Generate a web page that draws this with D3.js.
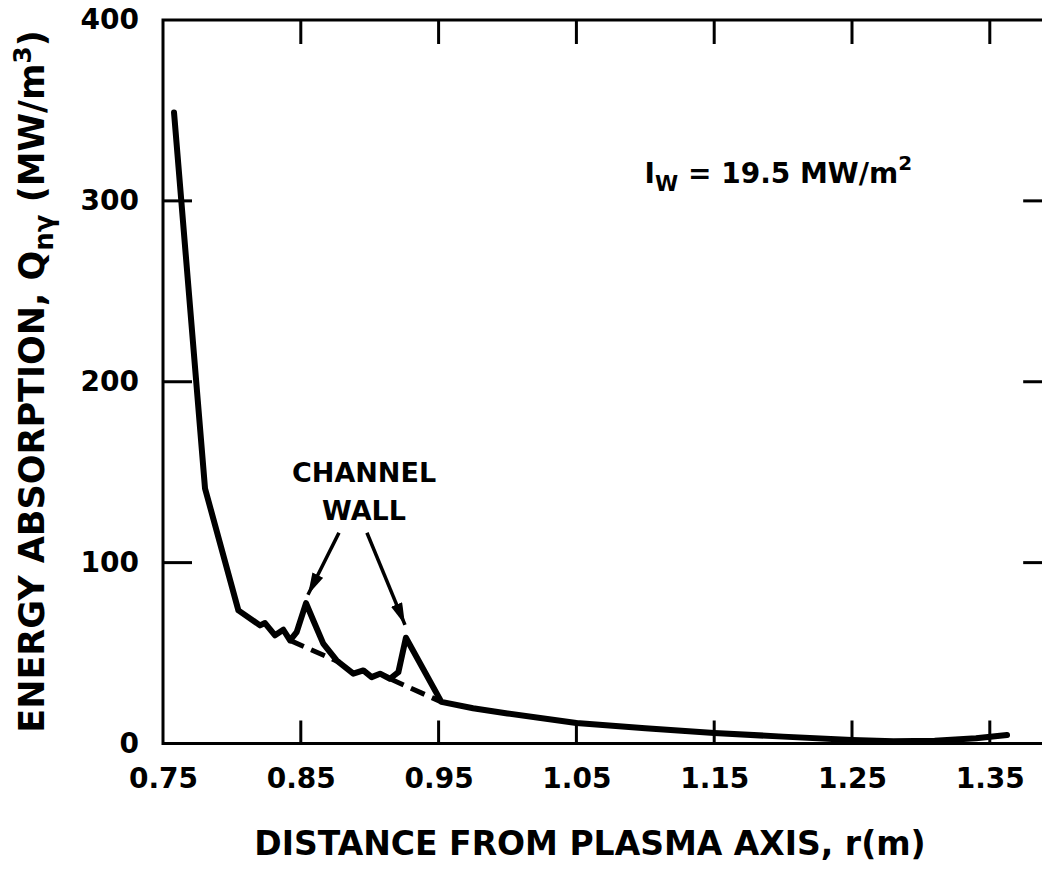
<!DOCTYPE html>
<html>
<head>
<meta charset="utf-8">
<script src="https://cdn.jsdelivr.net/npm/d3@7"></script>
<style>
  html, body { margin: 0; padding: 0; background: #fff; }
  svg { display: block; }
  text { font-family: "DejaVu Sans", "Liberation Sans", sans-serif; font-weight: bold; fill: #000; }
</style>
</head>
<body>
<svg id="chart" width="1042" height="869"></svg>
<script>
// ---------- data ----------
const rTickLabels = [0.75, 0.85, 0.95, 1.05, 1.15, 1.25, 1.35];
const rTickMarks  = [0.85, 0.95, 1.05, 1.15, 1.25, 1.35];
const qTickLabels = [0, 100, 200, 300, 400];
const qTickMarks  = [100, 200, 300];

// main curve: distance r (m) and energy absorption Q (MW/m^3)
const curveR = [0.758, 0.7805, 0.8047, 0.8204, 0.8240, 0.8313, 0.8373, 0.8422, 0.8470, 0.8538,
                0.8591, 0.8663, 0.8760, 0.8881, 0.8954, 0.9014, 0.9075, 0.9147, 0.9208, 0.9263,
                0.952, 0.975, 1.00, 1.05, 1.10, 1.15, 1.20, 1.25, 1.28, 1.31, 1.34, 1.3625];
const curveQ = [348.8, 141, 73.6, 65.3, 66.6, 59.8, 62.9, 57.0, 61.6, 77.6,
                68, 55.2, 45.9, 38.6, 40.4, 36.7, 38.6, 35.8, 39.4, 58.5,
                23, 19.5, 16.6, 11.3, 8.4, 5.8, 3.8, 2.0, 1.2, 1.5, 2.9, 4.7];

// dashed baseline (without channel walls), two visible segments
const dashR1 = [0.8422, 0.878];
const dashQ1 = [57.0, 45.0];
const dashR2 = [0.9147, 0.952];
const dashQ2 = [35.8, 23.0];

// annotation texts
const xTitle = "DISTANCE FROM PLASMA AXIS, r(m)";
const annotLines = ["CHANNEL", "WALL"];

// ---------- layout ----------
const svg = d3.select("#chart");
const x = d3.scaleLinear().domain([0.75, 1.40]).range([163, 163 + 6.5 * 137.8]);
const y = d3.scaleLinear().domain([0, 400]).range([743.5, 20]);

const x0 = x(0.75), x1 = x(1.396), yb = y(0), yt = y(400);

// frame
const frame = svg.append("g").attr("stroke", "#000").attr("stroke-width", 3).attr("fill", "none");
frame.append("path").attr("d", `M${x1},${yt}H${x0}V${yb}H${x1}`).attr("stroke-linejoin", "miter");

// ticks (inward)
const ticks = svg.append("g").attr("stroke", "#000").attr("stroke-width", 3);
rTickMarks.forEach(v => {
  ticks.append("line").attr("x1", x(v)).attr("x2", x(v)).attr("y1", yb).attr("y2", yb - 23);
  ticks.append("line").attr("x1", x(v)).attr("x2", x(v)).attr("y1", yt).attr("y2", yt + 24);
});
qTickMarks.forEach(v => {
  ticks.append("line").attr("x1", x0).attr("x2", x0 + 29).attr("y1", y(v)).attr("y2", y(v));
  ticks.append("line").attr("x1", x1).attr("x2", x1 - 30).attr("y1", y(v)).attr("y2", y(v));
});

// tick labels via axes
const xAxis = d3.axisBottom(x).tickValues(rTickLabels).tickFormat(d3.format(".2f")).tickSize(0).tickPadding(25);
const gx = svg.append("g").attr("transform", `translate(0,${yb})`).call(xAxis);
gx.select(".domain").remove();
gx.selectAll("text").attr("font-size", 28).attr("font-family", null).style("font-family", "DejaVu Sans").style("font-weight", "bold").attr("fill", "#000");

const yAxis = d3.axisLeft(y).tickValues(qTickLabels).tickFormat(d3.format("d")).tickSize(0).tickPadding(24);
const gy = svg.append("g").attr("transform", `translate(${x0},0)`).call(yAxis);
gy.select(".domain").remove();
gy.selectAll("text").attr("font-size", 28).attr("font-family", null).style("font-family", "DejaVu Sans").style("font-weight", "bold").attr("fill", "#000");

// main curve
const pts = curveR.map((r, i) => [r, curveQ[i]]);
const line = d3.line().x(d => x(d[0])).y(d => y(d[1]));
svg.append("path").attr("d", line(pts)).attr("fill", "none").attr("stroke", "#000")
  .attr("stroke-width", 6).attr("stroke-linejoin", "round").attr("stroke-linecap", "round");

// dashed baseline
[[dashR1, dashQ1], [dashR2, dashQ2]].forEach(([rs, qs]) => {
  const p = rs.map((r, i) => [r, qs[i]]);
  svg.append("path").attr("d", line(p)).attr("fill", "none").attr("stroke", "#000")
    .attr("stroke-width", 5).attr("stroke-dasharray", "15,8");
});

// arrows
const defs = svg.append("defs");
defs.append("marker").attr("id", "arr").attr("viewBox", "0 0 22 12").attr("refX", 22).attr("refY", 6)
  .attr("markerWidth", 22).attr("markerHeight", 12).attr("markerUnits", "userSpaceOnUse").attr("orient", "auto")
  .append("path").attr("d", "M0,0L22,6L0,12Z").attr("fill", "#000");

const arrows = [
  {from: [0.8777, 116.5], to: [0.8552, 82.2]},
  {from: [0.8980, 116.5], to: [0.9256, 65.6]}
];
arrows.forEach(a => {
  svg.append("line").attr("x1", x(a.from[0])).attr("y1", y(a.from[1]))
    .attr("x2", x(a.to[0])).attr("y2", y(a.to[1]))
    .attr("stroke", "#000").attr("stroke-width", 3.5).attr("marker-end", "url(#arr)");
});

// "CHANNEL WALL"
svg.append("text").attr("x", x(0.8959)).attr("y", y(144.7)).attr("text-anchor", "middle")
  .attr("font-size", 27).text(annotLines[0]);
svg.append("text").attr("x", x(0.8959)).attr("y", y(123.7)).attr("text-anchor", "middle")
  .attr("font-size", 27).text(annotLines[1]);

// I_W label
const iw = svg.append("text").attr("x", x(1.0995)).attr("y", y(310)).attr("font-size", 28);
iw.append("tspan").text("I");
iw.append("tspan").attr("dy", 8).attr("font-size", 21).text("W");
iw.append("tspan").attr("dy", -8).text(" = 19.5 MW/m");
iw.append("tspan").attr("dy", -13).attr("font-size", 20).text("2");

// x title
svg.append("text").attr("x", 590).attr("y", 855).attr("text-anchor", "middle")
  .attr("font-size", 33).text(xTitle);

// y title
const yt2 = svg.append("text").attr("transform", `translate(44,${(28 + 735) / 2}) rotate(-90)`)
  .attr("text-anchor", "middle").attr("font-size", 35);
yt2.append("tspan").text("ENERGY ABSORPTION, Q");
yt2.append("tspan").attr("dy", 9).attr("font-size", 26).text("nγ");
yt2.append("tspan").attr("dy", -9).text(" (MW/m");
yt2.append("tspan").attr("dy", -13).attr("font-size", 25).text("3");
yt2.append("tspan").attr("dy", 13).text(")");
</script>
</body>
</html>
